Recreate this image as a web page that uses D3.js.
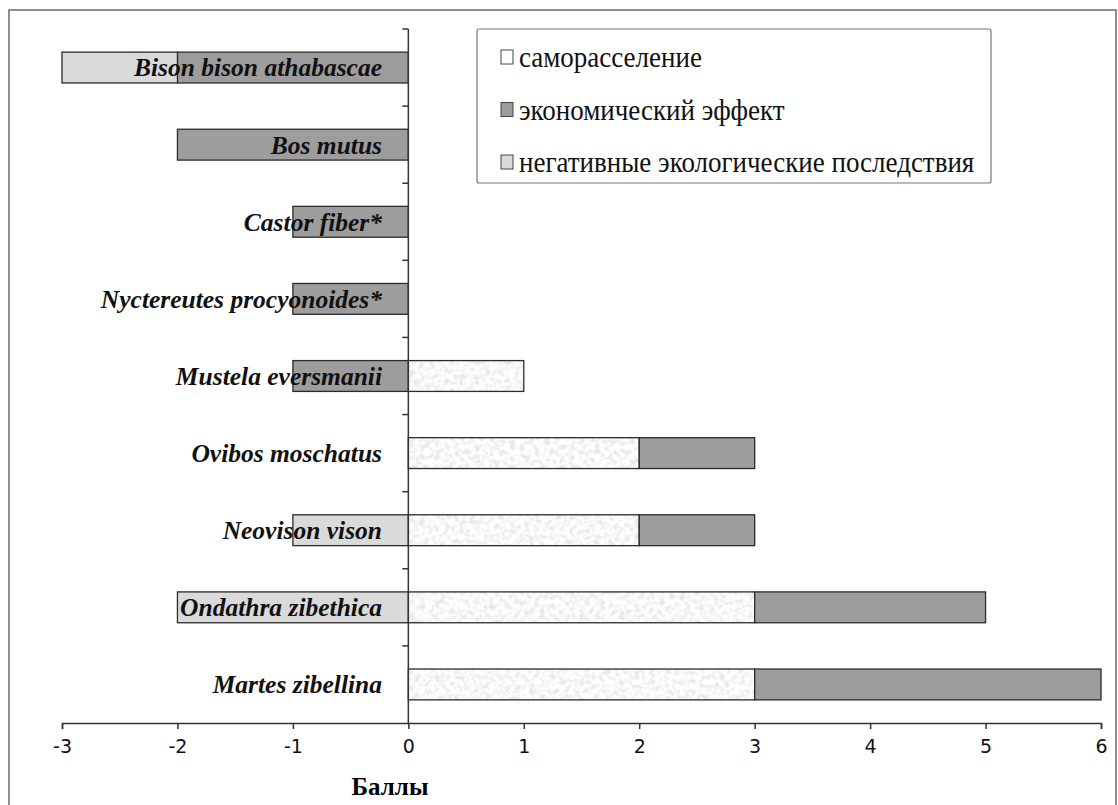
<!DOCTYPE html>
<html>

<head>
  <meta charset="utf-8">
  <title>Баллы</title>
  <style>
    body { margin: 0; background: #fff; }
  </style>
</head>

<body>
  <script src="https://d3js.org/d3.v7.min.js"></script>
  <script>
    // species, top to bottom
    var categories = [
      "Bison bison athabascae",
      "Bos mutus",
      "Castor fiber*",
      "Nyctereutes procyonoides*",
      "Mustela eversmanii",
      "Ovibos moschatus",
      "Neovison vison",
      "Ondathra zibethica",
      "Martes zibellina"
    ];
    var selfSpread = [0, 0, 0, 0, 1, 2, 2, 3, 3];       // саморасселение
    var economic = [-2, -2, -1, -1, -1, 1, 1, 2, 3];    // экономический эффект
    var negative = [-1, 0, 0, 0, 0, 0, -1, -2, 0];      // негативные экологические последствия
    var seriesNames = ["саморасселение", "экономический эффект", "негативные экологические последствия"];
    var xTicks = [-3, -2, -1, 0, 1, 2, 3, 4, 5, 6];

    var width = 1118;
    var height = 805;

    var svg = d3.select("body").append("svg")
      .attr("width", width).attr("height", height);

    var defs = svg.append("defs");
    var filt = defs.append("filter").attr("id", "speckle")
      .attr("x", 0).attr("y", 0).attr("width", 1).attr("height", 1);
    filt.append("feTurbulence")
      .attr("type", "fractalNoise").attr("baseFrequency", "0.2")
      .attr("numOctaves", 2).attr("seed", 7).attr("result", "n");
    filt.append("feColorMatrix").attr("in", "n").attr("type", "matrix")
      .attr("values", "0 0 0 0 0.80  0 0 0 0 0.80  0 0 0 0 0.80  2.8 0 0 0 -1.1");

    // outer frame
    svg.append("rect")
      .attr("x", 9).attr("y", 10).attr("width", 1107).attr("height", 810)
      .attr("fill", "none").attr("stroke", "#6a6a6a").attr("stroke-width", 1.5);

    var x = d3.scaleLinear().domain([-3, 6]).range([62, 1101]);
    var y = d3.scaleBand().domain(categories).range([29, 723])
      .paddingInner(0.6).paddingOuter(0.3);

    var rows = categories.map(function(c, i) {
      return { name: c, self: selfSpread[i], econ: economic[i], neg: negative[i] };
    });
    var keys = ["self", "econ", "neg"];
    var fills = { self: "#ffffff", econ: "#9d9d9d", neg: "#dadada" };
    var stacked = d3.stack().keys(keys).offset(d3.stackOffsetDiverging)(rows);

    var g = svg.append("g");
    stacked.forEach(function(s) {
      var segs = s.filter(function(d) { return d[1] - d[0] !== 0; });
      var sel = g.selectAll(".bar-" + s.key).data(segs).enter();
      sel.append("rect")
        .attr("x", function(d) { return x(d[0]); })
        .attr("y", function(d) { return y(d.data.name); })
        .attr("width", function(d) { return x(d[1]) - x(d[0]); })
        .attr("height", y.bandwidth())
        .attr("fill", fills[s.key]);
      if (s.key === "self") {
        sel.append("rect")
          .attr("x", function(d) { return x(d[0]); })
          .attr("y", function(d) { return y(d.data.name); })
          .attr("width", function(d) { return x(d[1]) - x(d[0]); })
          .attr("height", y.bandwidth())
          .attr("filter", "url(#speckle)");
      }
      sel.append("rect")
        .attr("x", function(d) { return x(d[0]); })
        .attr("y", function(d) { return y(d.data.name); })
        .attr("width", function(d) { return x(d[1]) - x(d[0]); })
        .attr("height", y.bandwidth())
        .attr("fill", "none").attr("stroke", "#2b2b2b").attr("stroke-width", 1.3);
    });

    // x axis
    var xAxis = svg.append("g")
      .attr("transform", "translate(0,723)")
      .call(d3.axisBottom(x).tickValues(xTicks).tickSize(6).tickSizeOuter(6)
        .tickFormat(function(d) { return String(d); }));
    xAxis.select(".domain").attr("stroke", "#333").attr("stroke-width", 1.5);
    xAxis.selectAll(".tick line").attr("stroke", "#333").attr("stroke-width", 1.5);
    xAxis.selectAll(".tick text")
      .attr("dy", "0.85em").attr("y", 14)
      .style("font-family", "'DejaVu Sans', sans-serif")
      .style("font-size", "19px").attr("fill", "#111");

    // y axis at zero with ticks between categories
    var yTickPos = d3.range(categories.length + 1).map(function(i) {
      return 29 + i * y.step();
    });
    svg.append("line")
      .attr("x1", x(0)).attr("x2", x(0)).attr("y1", 29).attr("y2", 723)
      .attr("stroke", "#333").attr("stroke-width", 1.5);
    svg.selectAll(".ytick").data(yTickPos.slice(0, -1)).enter().append("line")
      .attr("x1", x(0) - 6).attr("x2", x(0))
      .attr("y1", function(d) { return d; }).attr("y2", function(d) { return d; })
      .attr("stroke", "#333").attr("stroke-width", 1.5);

    // species labels over the bars
    svg.selectAll(".label").data(categories).enter().append("text")
      .attr("x", 382)
      .attr("y", function(d) { return y(d) + y.bandwidth() / 2; })
      .attr("dy", "0.35em")
      .attr("text-anchor", "end")
      .style("font-family", "'Liberation Serif', serif")
      .style("font-style", "italic").style("font-weight", "bold")
      .style("font-size", "25.5px").attr("fill", "#111")
      .text(function(d) { return d; });

    svg.append("text")
      .attr("x", 390).attr("y", 795)
      .attr("text-anchor", "middle")
      .style("font-family", "'Liberation Serif', serif")
      .style("font-weight", "bold").style("font-size", "25px")
      .text("Баллы");

    // legend
    var lg = svg.append("g");
    lg.append("rect")
      .attr("x", 477).attr("y", 29).attr("width", 514).attr("height", 154).attr("rx", 2)
      .attr("fill", "#fff").attr("stroke", "#777").attr("stroke-width", 1.2);
    var legendFill = [fills.self, fills.econ, fills.neg];
    seriesNames.forEach(function(n, i) {
      var cy = 57 + i * 52.5;
      lg.append("rect")
        .attr("x", 501).attr("y", cy - 7).attr("width", 12).attr("height", 14)
        .attr("fill", legendFill[i]).attr("stroke", "#444").attr("stroke-width", 1);
      lg.append("text")
        .attr("transform", "translate(519," + cy + ") scale(1,1.13)")
        .attr("dy", "0.33em")
        .style("font-family", "'Liberation Serif', serif")
        .style("font-size", "27px").attr("fill", "#111")
        .text(n);
    });
  </script>
</body>

</html>
